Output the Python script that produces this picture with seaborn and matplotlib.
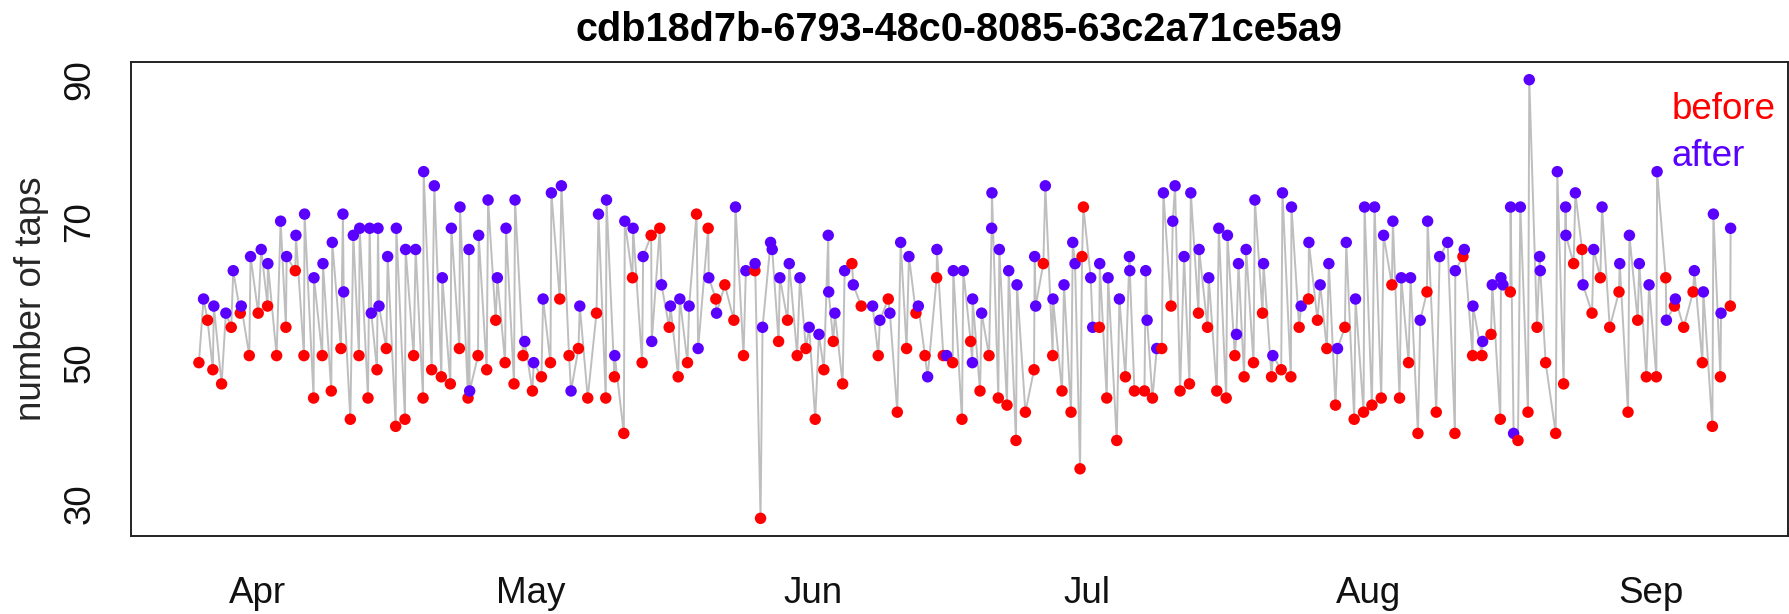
import matplotlib
matplotlib.use("Agg")
import matplotlib.pyplot as plt
import matplotlib.dates as mdates
import numpy as np
import pandas as pd
import seaborn as sns

# ---------------- data ----------------
title = "cdb18d7b-6793-48c0-8085-63c2a71ce5a9"
base_date = "2015-04-01"

# sessions "before": time in days after base_date, and number of taps
before_days = [
    -6.43, -5.48, -4.90, -3.94, -2.88, -1.89, -0.90, 0.08, 1.11, 2.10, 3.12, 4.15, 5.10, 6.16,
    7.11, 8.10, 9.16, 10.19, 11.14, 12.13, 13.12, 14.14, 15.17, 16.19, 17.14,
    18.17, 19.12, 20.18, 21.17, 22.16, 23.11, 24.21, 25.16, 26.15, 27.18, 28.16, 29.15, 30.18,
    31.17, 32.16, 33.18, 34.20, 35.23, 36.25, 37.21, 38.23, 39.18, 40.21, 41.16, 42.22, 43.21,
    44.16, 45.19, 46.18, 47.20, 48.19, 49.47, 50.31, 51.30, 52.29, 53.35, 54.60, 55.22, 57.20,
    58.18, 59.24, 60.20, 61.22, 62.17, 63.20, 64.23, 65.25, 66.27, 68.14,
    69.24, 70.23, 71.25, 72.28, 73.27, 74.55, 75.28, 76.31, 77.33, 78.28, 79.31, 80.30, 81.32,
    82.27, 83.26, 84.29, 85.24, 86.26, 87.29, 88.31, 89.30, 90.29, 90.51, 90.66, 92.41, 93.22,
    94.32, 95.27, 96.26, 97.36, 98.24, 99.26, 100.28, 101.27, 102.30, 103.29, 104.28, 105.30,
    106.33, 107.28, 108.30, 109.33, 110.32, 111.31, 112.37, 113.43, 114.34, 115.37, 116.35,
    117.38, 118.33,
    119.36, 120.38, 121.41, 122.33, 123.35, 124.52, 125.36, 126.35, 127.38, 128.37, 129.39,
    131.44, 132.32, 133.38, 134.41, 135.40, 136.42, 137.52, 138.36, 139.46, 140.45, 141.40,
    142.50, 143.37,
    144.47, 145.39, 146.49, 147.40, 148.43, 149.45, 150.44, 151.50, 152.45, 153.55, 154.58,
    155.53, 156.55, 157.58, 158.60, 159.70, 160.58, 161.67,
]
before_taps = [
    50, 56, 49, 47, 55, 57, 51, 57, 58, 51, 55, 63, 51, 45,
    51, 46, 52, 42, 51, 45, 49, 52, 41, 42, 51,
    45, 49, 48, 47, 52, 45, 51, 49, 56, 50, 47, 51, 46,
    48, 50, 59, 51, 52, 45, 57, 45, 48, 40, 62, 50, 68,
    69, 55, 48, 50, 71, 69, 59, 61, 56, 51, 63, 28, 53,
    56, 51, 52, 42, 49, 53, 47, 64, 58, 51,
    59, 43, 52, 57, 51, 62, 51, 50, 42, 53, 46, 51, 45,
    44, 39, 43, 49, 64, 51, 46, 43, 35, 65, 72, 55, 45,
    39, 48, 46, 46, 45, 52, 58, 46, 47, 57, 55, 46,
    45, 51, 48, 50, 57, 48, 49, 48, 55, 59, 56,
    52, 44,
    55, 42, 43, 44, 45, 61, 45, 50, 40, 60, 43,
    40, 65, 51, 51, 54, 42, 60, 39, 43, 55, 50,
    40, 47,
    64, 66, 57, 62, 55, 60, 43, 56, 48, 48, 62,
    58, 55, 60, 50, 41, 48, 58,
]

# sessions "after"
after_days = [
    -5.92, -4.79, -3.47, -2.66, -1.78, -0.76, 0.41, 1.14, 2.54, 3.20, 4.22, 5.17, 6.20, 7.19,
    8.21, 9.38, 9.46, 10.52, 11.22, 12.31, 12.49, 13.23, 13.34, 14.29, 15.24, 16.26, 17.36,
    18.24, 19.41, 20.29, 21.28, 22.23, 23.22, 23.29, 24.28, 25.31, 26.33, 27.28, 28.27, 29.34,
    30.32, 31.35, 32.26, 33.36, 34.42, 35.38, 37.43, 38.31, 39.22, 40.32, 41.23, 42.33, 43.28,
    44.35, 45.33, 46.36, 47.38, 48.37, 49.54, 50.39, 52.47, 53.61, 54.62, 55.44, 56.32, 56.50,
    57.34, 58.37, 59.54, 60.56, 61.63, 62.65, 62.70, 63.38, 64.45, 65.40, 67.52, 68.32,
    69.42, 70.60, 71.51, 72.54, 73.56, 74.58, 75.65, 76.38, 77.48, 78.47, 78.50, 79.49, 80.59,
    80.62, 81.43, 82.46, 83.37, 85.31, 85.42, 86.48, 87.32, 88.53, 89.49, 89.74, 91.46, 91.68,
    92.45, 93.37,
    94.61, 95.71, 95.75, 97.50, 97.65, 98.71, 99.44, 100.47, 100.72, 101.71, 102.45, 103.36,
    104.42, 105.52, 106.47, 107.46, 107.68, 108.52, 109.48, 110.43, 111.45, 112.51, 113.50,
    114.56, 115.41, 116.65, 117.60, 118.55,
    119.51, 120.53, 121.52, 122.62, 123.61, 124.63, 125.55, 126.57, 127.63, 128.44, 129.76,
    130.64, 131.48, 132.47, 133.42, 134.48, 135.54, 136.49, 136.71, 137.55, 137.88, 138.62,
    139.60, 140.74, 140.81, 142.68, 143.59, 143.62,
    144.66, 145.50, 146.67, 147.59, 149.53, 150.59, 151.68, 152.75, 153.63, 154.65, 155.64,
    157.72, 158.71, 159.81, 160.65, 161.70,
]
after_taps = [
    59, 58, 57, 63, 58, 65, 66, 64, 70, 65, 68, 71, 62, 64,
    67, 71, 60, 68, 69, 69, 57, 69, 58, 65, 69, 66, 66,
    77, 75, 62, 69, 72, 66, 46, 68, 73, 62, 69, 73, 53,
    50, 59, 74, 75, 46, 58, 71, 73, 51, 70, 69, 65, 53,
    61, 58, 59, 58, 52, 62, 57, 72, 63, 64, 55, 67, 66,
    62, 64, 62, 55, 54, 68, 60, 57, 63, 61, 58, 56,
    57, 67, 65, 58, 48, 66, 51, 63, 63, 50, 59, 57, 69,
    74, 66, 63, 61, 65, 58, 75, 59, 61, 67, 64, 62, 55,
    64, 62,
    59, 65, 63, 63, 56, 52, 74, 70, 75, 65, 74, 66,
    62, 69, 68, 54, 64, 66, 73, 64, 51, 74, 72,
    58, 67, 61, 64, 52,
    67, 59, 72, 72, 68, 70, 62, 62, 56, 70, 65,
    67, 63, 66, 58, 53, 61, 62, 61, 72, 40, 72,
    90, 65, 63, 77, 72, 68,
    74, 61, 66, 72, 64, 68, 64, 61, 77, 56, 59,
    63, 60, 71, 57, 69,
]

month_ticks = ["2015-04-01", "2015-05-01", "2015-06-01", "2015-07-01", "2015-08-01", "2015-09-01"]
x_limits = ["2015-03-18 02:00", "2015-09-16 00:00"]
y_limits = [25.5, 92.5]
y_ticks = [30, 40, 50, 60, 70, 80, 90]
y_tick_labels = ["30", "", "50", "", "70", "", "90"]
colors = {"before": "#FF0000", "after": "#5A00FF"}

# ---------------- figure ----------------
sns.set_style("white")
plt.rcParams["font.family"] = ["Liberation Sans", "DejaVu Sans"]

W, H = 1789, 614
fig = plt.figure(figsize=(W / 100, H / 100), dpi=100)
left, right, top, bottom = 130.7, 1788, 62, 536
ax = fig.add_axes([left / W, 1 - bottom / H, (right - left) / W, (bottom - top) / H])

base = pd.Timestamp(base_date)
nb = min(len(before_days), len(before_taps))
na = min(len(after_days), len(after_taps))
df = pd.concat([
    pd.DataFrame({"day": before_days[:nb], "taps": before_taps[:nb], "phase": "before"}),
    pd.DataFrame({"day": after_days[:na], "taps": after_taps[:na], "phase": "after"}),
], ignore_index=True)
df = df.sort_values("day", kind="stable").reset_index(drop=True)
df["time"] = base + pd.to_timedelta(df["day"], unit="D")

sns.lineplot(data=df, x="time", y="taps", sort=False, estimator=None,
             color="#BEBEBE", linewidth=1.4, ax=ax, zorder=1)
sns.scatterplot(data=df, x="time", y="taps", hue="phase", palette=colors,
                s=68, linewidth=0, legend=False, ax=ax, zorder=3)

ax.set_xlim(pd.Timestamp(x_limits[0]), pd.Timestamp(x_limits[1]))
ax.set_ylim(*y_limits)
ax.set_xticks([pd.Timestamp(m) for m in month_ticks])
ax.xaxis.set_major_formatter(mdates.DateFormatter("%b"))
ax.set_yticks(y_ticks)
ax.set_yticklabels(y_tick_labels, rotation=90, va="center")
ax.set_xlabel("")
ax.set_ylabel("number of taps", fontsize=26.5)
ax.yaxis.set_label_coords(-0.049, 0.5)

for s in ax.spines.values():
    s.set_visible(True)
    s.set_color("#222222")
    s.set_linewidth(1.4)
ax.tick_params(axis="both", direction="out", length=17, width=1.3, color="#222222",
               labelsize=26.5, labelcolor="#111111")
ax.tick_params(axis="x", pad=12)
ax.tick_params(axis="y", pad=7)

fig.text((left + right) / 2 / W, 1 - 41 / H, title, ha="center", va="baseline",
         fontsize=28.5, fontweight="bold", color="#000000")

ax.text(0.930, 0.899, "before", transform=ax.transAxes, color=colors["before"],
        fontsize=26.5, ha="left", va="center")
ax.text(0.930, 0.800, "after", transform=ax.transAxes, color=colors["after"],
        fontsize=26.5, ha="left", va="center")

fig.savefig("out.png", dpi=100)
